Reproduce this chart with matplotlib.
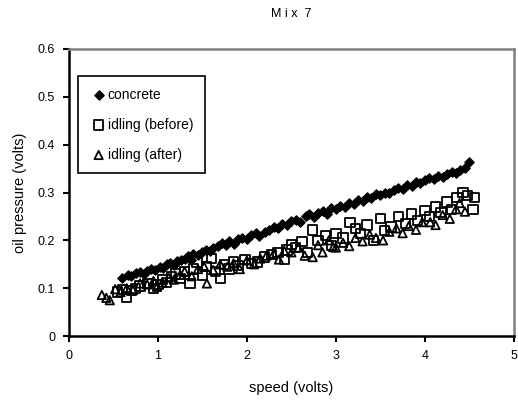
import matplotlib.pyplot as plt

plt.rcParams['font.family'] = ['Liberation Sans', 'DejaVu Sans']

# concrete
conc_x = [0.60, 0.66, 0.70, 0.75, 0.80, 0.84, 0.88, 0.92, 0.97, 1.02, 1.06, 1.10,
          1.14, 1.18, 1.22, 1.26, 1.30, 1.34, 1.37, 1.40, 1.45, 1.50, 1.54, 1.58,
          1.62, 1.67, 1.72, 1.76, 1.80, 1.85, 1.90, 1.95, 2.00, 2.05, 2.10, 2.14,
          2.20, 2.25, 2.30, 2.35, 2.40, 2.45, 2.50, 2.55, 2.60, 2.66, 2.70, 2.75,
          2.80, 2.85, 2.90, 2.95, 3.00, 3.05, 3.10, 3.15, 3.20, 3.25, 3.30, 3.35,
          3.40, 3.45, 3.50, 3.55, 3.60, 3.65, 3.70, 3.75, 3.80, 3.85, 3.90, 3.95,
          4.00, 4.05, 4.10, 4.15, 4.20, 4.25, 4.30, 4.35, 4.40, 4.45, 4.50]
conc_y = [0.122, 0.128, 0.126, 0.131, 0.133, 0.130, 0.137, 0.140, 0.138, 0.145, 0.143, 0.150,
          0.152, 0.148, 0.157, 0.160, 0.162, 0.167, 0.158, 0.172, 0.170, 0.176, 0.180, 0.178,
          0.185, 0.188, 0.195, 0.190, 0.198, 0.193, 0.202, 0.205, 0.203, 0.212, 0.215, 0.210,
          0.218, 0.222, 0.228, 0.225, 0.235, 0.232, 0.240, 0.243, 0.238, 0.250, 0.255, 0.248,
          0.258, 0.262, 0.256, 0.268, 0.265, 0.272, 0.270, 0.278, 0.277, 0.285, 0.283, 0.290,
          0.288, 0.296, 0.294, 0.300, 0.298, 0.306, 0.310, 0.307, 0.316, 0.314, 0.321, 0.319,
          0.327, 0.330, 0.328, 0.335, 0.333, 0.339, 0.342, 0.340, 0.347, 0.352, 0.363]

# idling (before)
before_x = [0.55, 0.60, 0.65, 0.70, 0.75, 0.80, 0.88, 0.95, 1.00, 1.05, 1.10, 1.15,
            1.20, 1.25, 1.30, 1.36, 1.40, 1.44, 1.50, 1.55, 1.60, 1.65, 1.70, 1.75,
            1.80, 1.85, 1.90, 1.98, 2.05, 2.12, 2.20, 2.28, 2.35, 2.42, 2.45, 2.50,
            2.55, 2.62, 2.68, 2.74, 2.80, 2.88, 2.95, 3.00, 3.08, 3.16, 3.22, 3.28,
            3.35, 3.42, 3.50, 3.55, 3.62, 3.70, 3.78, 3.85, 3.92, 4.00, 4.05, 4.12,
            4.18, 4.25, 4.30, 4.36, 4.43, 4.48, 4.54, 4.56]
before_y = [0.092, 0.098, 0.082, 0.095, 0.100, 0.105, 0.110, 0.100, 0.108, 0.118, 0.112, 0.125,
            0.130, 0.120, 0.135, 0.110, 0.140, 0.155, 0.128, 0.145, 0.162, 0.135, 0.121, 0.150,
            0.140, 0.155, 0.148, 0.160, 0.152, 0.155, 0.165, 0.170, 0.175, 0.160, 0.180, 0.192,
            0.185, 0.198, 0.175, 0.222, 0.200, 0.210, 0.190, 0.215, 0.205, 0.238, 0.225, 0.215,
            0.232, 0.200, 0.245, 0.220, 0.228, 0.250, 0.235, 0.255, 0.242, 0.262, 0.250, 0.270,
            0.258, 0.280, 0.265, 0.290, 0.300, 0.294, 0.264, 0.289]

# idling (after)
after_x = [0.37, 0.42, 0.46, 0.52, 0.58, 0.65, 0.72, 0.80, 0.88, 0.95, 0.99, 1.05,
           1.12, 1.18, 1.25, 1.30, 1.38, 1.45, 1.52, 1.55, 1.62, 1.70, 1.78, 1.85,
           1.92, 2.00, 2.08, 2.15, 2.22, 2.30, 2.36, 2.42, 2.50, 2.58, 2.65, 2.74,
           2.80, 2.85, 2.92, 2.97, 3.00, 3.08, 3.15, 3.22, 3.30, 3.38, 3.45, 3.53,
           3.60, 3.68, 3.75, 3.82, 3.90, 3.97, 4.06, 4.12, 4.20, 4.28, 4.35, 4.39, 4.45]
after_y = [0.086, 0.080, 0.075, 0.098, 0.092, 0.100, 0.096, 0.110, 0.108, 0.115, 0.103, 0.112,
           0.122, 0.118, 0.128, 0.135, 0.125, 0.140, 0.145, 0.110, 0.138, 0.150, 0.145, 0.152,
           0.140, 0.158, 0.150, 0.162, 0.168, 0.172, 0.160, 0.178, 0.175, 0.185, 0.168, 0.165,
           0.190, 0.175, 0.200, 0.186, 0.185, 0.195, 0.188, 0.205, 0.198, 0.212, 0.205, 0.200,
           0.218, 0.225, 0.215, 0.230, 0.222, 0.238, 0.238, 0.232, 0.253, 0.245, 0.265, 0.278, 0.260]

fig = plt.figure(figsize=(5.18, 4.04), dpi=100)
ax = fig.add_axes([0.133, 0.168, 0.859, 0.711])

ax.scatter(conc_x, conc_y, marker='D', s=22, color='black', label='concrete', zorder=3)
ax.scatter(before_x, before_y, marker='s', s=45, facecolors='none', edgecolors='black',
           linewidths=1.3, label='idling (before)', zorder=2)
ax.scatter(after_x, after_y, marker='^', s=36, facecolors='none', edgecolors='black',
           linewidths=1.3, label='idling (after)', zorder=2)

ax.set_xlim(0, 5)
ax.set_ylim(0, 0.6)
ax.set_xticks([0, 1, 2, 3, 4, 5])
ax.set_yticks([0, 0.1, 0.2, 0.3, 0.4, 0.5, 0.6])
ax.set_yticklabels(['0', '0.1', '0.2', '0.3', '0.4', '0.5', '0.6'])
ax.tick_params(labelsize=9, length=4, width=1.5, direction='out', pad=6)

for side in ['left', 'bottom']:
    ax.spines[side].set_linewidth(1.8)
for side in ['top', 'right']:
    ax.spines[side].set_color('#808080')
    ax.spines[side].set_linewidth(1.8)

ax.set_title('M i x  7', fontsize=9, pad=23)
ax.set_xlabel('speed (volts)', fontsize=10.5, labelpad=14)
ax.set_ylabel('oil pressure (volts)', fontsize=10.5, labelpad=8)

leg = ax.legend(loc='upper left', bbox_to_anchor=(0.02, 0.906), borderaxespad=0,
                fontsize=10, labelspacing=1.15, handletextpad=0.0, handlelength=1.3,
                borderpad=0.85, fancybox=False, framealpha=1, scatterpoints=1)
leg.get_frame().set_edgecolor('black')
leg.get_frame().set_linewidth(1.2)

fig.savefig('out.png', dpi=100)
